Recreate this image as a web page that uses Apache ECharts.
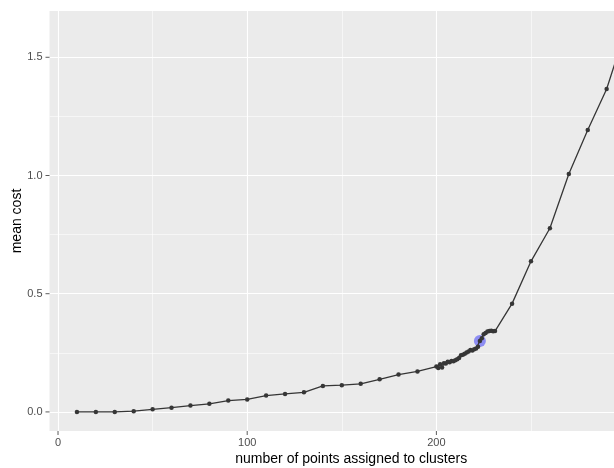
<!DOCTYPE html>
<html lang="en" style="height: 100%">
<head>
  <meta charset="utf-8">
</head>
<body style="height: 100%; margin: 0">
  <div id="container" style="width: 614px; height: 468px"></div>

  <script type="text/javascript" src="https://cdn.jsdelivr.net/npm/echarts@6/dist/echarts.min.js"></script>

  <script type="text/javascript">
    // points assigned vs mean cost
    var nPoints = [
      10, 20, 30, 40, 50, 60, 70, 80, 90, 100,
      110, 120, 130, 140, 150, 160, 170, 180, 190,
      200, 201, 202, 203, 204, 205, 206, 207, 208, 209,
      210, 211, 212, 213, 214, 215, 216, 217, 218, 219,
      220, 221, 222, 223, 224, 225, 226, 227, 228, 229,
      230, 231,
      240, 250, 260, 270, 280, 290, 300
    ];
    var meanCost = [
      0.000, 0.000, 0.000, 0.003, 0.011, 0.018, 0.027, 0.034, 0.048, 0.053,
      0.069, 0.076, 0.083, 0.110, 0.113, 0.119, 0.138, 0.158, 0.171,
      0.192, 0.186, 0.202, 0.188, 0.206, 0.205, 0.212, 0.210, 0.215, 0.214,
      0.218, 0.223, 0.228, 0.240, 0.242, 0.246, 0.251, 0.255, 0.262, 0.260,
      0.265, 0.268, 0.276, 0.300, 0.312, 0.328, 0.334, 0.340, 0.342, 0.343,
      0.341, 0.342,
      0.458, 0.637, 0.777, 1.006, 1.192, 1.366, 1.615
    ];
    // highlighted choice
    var pickX = [223];
    var pickY = [0.300];

    var xTicks = [0, 100, 200];
    var xMinor = [50, 150, 250];
    var yTicks = [0, 0.5, 1.0, 1.5];
    var yMinor = [0.25, 0.75, 1.25];

    // ggplot-style 5% expansion of the data range
    var xMin = -4.5, xMax = 314.5;
    var yMin = -0.08075, yMax = 1.69575;

    var dom = document.getElementById('container');
    var myChart = echarts.init(dom, null, { renderer: 'canvas' });

    var lineData = nPoints.map(function (x, i) { return [x, meanCost[i]]; });
    var pickData = pickX.map(function (x, i) { return [x, pickY[i]]; });

    // panel grid lines, placed through the axes
    var major = { color: '#ffffff', width: 1.1, type: 'solid' };
    var minor = { color: '#ffffff', width: 0.55, type: 'solid' };
    var gridLines = []
      .concat(xMinor.map(function (v) { return { xAxis: v, lineStyle: minor }; }))
      .concat(yMinor.map(function (v) { return { yAxis: v, lineStyle: minor }; }))
      .concat(xTicks.map(function (v) { return { xAxis: v, lineStyle: major }; }))
      .concat(yTicks.map(function (v) { return { yAxis: v, lineStyle: major }; }));

    // outward tick marks on the panel edges
    var xTickMarks = xTicks.map(function (v) { return [v, yMin]; });
    var yTickMarks = yTicks.map(function (v) { return [xMin, v]; });

    var font = 'Liberation Sans, Arial, sans-serif';

    var option = {
      animation: false,
      backgroundColor: '#ffffff',
      grid: {
        left: 49.5,
        right: -39,
        top: 11,
        bottom: 37,
        outerBoundsMode: 'none',
        containLabel: false,
        show: true,
        backgroundColor: '#ebebeb',
        borderWidth: 0
      },
      xAxis: {
        type: 'value',
        min: xMin,
        max: xMax,
        name: 'number of points assigned to clusters',
        nameLocation: 'middle',
        nameGap: 21,
        nameMoveOverlap: false,
        nameTextStyle: { fontFamily: font, fontSize: 14, color: '#000000' },
        axisLine: { show: false },
        axisTick: { show: false },
        axisLabel: {
          fontFamily: font, fontSize: 11, color: '#4d4d4d', margin: 6,
          customValues: xTicks
        },
        splitLine: { show: false }
      },
      yAxis: {
        type: 'value',
        min: yMin,
        max: yMax,
        name: 'mean cost',
        nameLocation: 'middle',
        nameGap: 25,
        nameMoveOverlap: false,
        nameRotate: 90,
        nameTextStyle: { fontFamily: font, fontSize: 14, color: '#000000' },
        axisLine: { show: false },
        axisTick: { show: false },
        axisLabel: {
          fontFamily: font, fontSize: 11, color: '#4d4d4d', margin: 7,
          customValues: yTicks,
          formatter: function (v) { return v.toFixed(1); }
        },
        splitLine: { show: false }
      },
      series: [
        {
          type: 'line',
          data: [],
          silent: true,
          z: 1,
          markLine: {
            silent: true,
            z: 1,
            symbol: ['none', 'none'],
            label: { show: false },
            animation: false,
            data: gridLines
          }
        },
        {
          type: 'scatter',
          data: xTickMarks,
          silent: true,
          clip: false,
          symbol: 'rect',
          symbolSize: [1, 4],
          symbolOffset: [0, 2],
          itemStyle: { color: '#333333' },
          z: 2
        },
        {
          type: 'scatter',
          data: yTickMarks,
          silent: true,
          clip: false,
          symbol: 'rect',
          symbolSize: [4, 1],
          symbolOffset: [-2, 0],
          itemStyle: { color: '#333333' },
          z: 2
        },
        {
          type: 'scatter',
          data: pickData,
          symbolSize: 12,
          itemStyle: { color: 'rgba(0,0,255,0.5)' },
          z: 3
        },
        {
          type: 'line',
          data: lineData,
          symbol: 'circle',
          symbolSize: 4.5,
          showAllSymbol: true,
          lineStyle: { color: '#363636', width: 1.3 },
          itemStyle: { color: '#363636' },
          z: 4
        }
      ]
    };

    myChart.setOption(option);
    window.addEventListener('resize', myChart.resize);
  </script>
</body>
</html>
